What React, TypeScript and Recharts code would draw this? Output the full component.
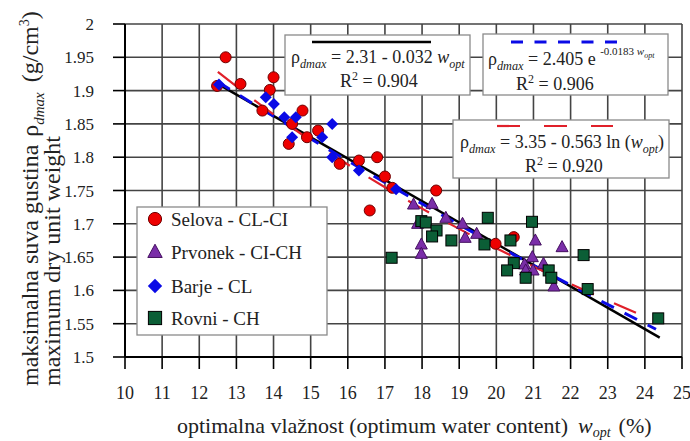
import { CartesianGrid, ComposedChart, Line, Scatter, XAxis, YAxis } from "recharts";

const xTicks = [10, 11, 12, 13, 14, 15, 16, 17, 18, 19, 20, 21, 22, 23, 24, 25];
const yTicks = [1.5, 1.55, 1.6, 1.65, 1.7, 1.75, 1.8, 1.85, 1.9, 1.95, 2];

// [w_opt, rho_dmax]
const selova = [
	[12.48, 1.907], [12.71, 1.95], [13.11, 1.91], [13.7, 1.87], [13.9, 1.901],
	[14.0, 1.92], [14.41, 1.82], [14.5, 1.85], [14.78, 1.87], [14.9, 1.83],
	[15.2, 1.84], [15.78, 1.79], [16.3, 1.795], [16.59, 1.72], [16.79, 1.8],
	[17.0, 1.771], [17.2, 1.754], [18.38, 1.75], [19.98, 1.67], [20.47, 1.68],
];
const prvonek = [
	[17.77, 1.729], [18.27, 1.73], [17.88, 1.7], [18.64, 1.709], [19.09, 1.7],
	[19.16, 1.679], [19.47, 1.685], [17.98, 1.669], [17.98, 1.655], [21.05, 1.675],
	[21.77, 1.665], [20.97, 1.65], [21.27, 1.64], [20.76, 1.639], [20.79, 1.63],
	[20.99, 1.63], [21.55, 1.606],
];
const barje = [
	[12.53, 1.909], [13.79, 1.89], [14.01, 1.88], [14.29, 1.86], [14.6, 1.86],
	[14.5, 1.83], [15.31, 1.83], [15.58, 1.85], [15.58, 1.8], [16.3, 1.78],
	[17.3, 1.752],
];
const rovni = [
	[17.18, 1.649], [17.98, 1.704], [18.1, 1.702], [18.39, 1.69], [18.27, 1.681],
	[18.79, 1.675], [19.77, 1.709], [19.68, 1.669], [20.38, 1.675], [20.96, 1.703],
	[20.47, 1.641], [20.29, 1.63], [20.79, 1.619], [21.41, 1.63], [21.48, 1.619],
	[22.35, 1.653], [22.46, 1.602], [24.36, 1.558],
];

// fitted curves as printed on the chart
const linFit = { a: 2.31, b: 0.032 };
const expFit = { a: 2.405, b: 0.0183 };
const logFit = { a: 3.35, b: 0.563 };
const linX = [12.5, 24.4];
const expX = [12.5, 14, 16, 18, 20, 22, 24.3];
const logX = [12.5, 14, 16, 18, 20, 22, 23.95];

const toPts = (arr: number[][]) => arr.map(([x, y]) => ({ x, y }));
const linData = linX.map((x) => ({ x, y: linFit.a - linFit.b * x }));
const expData = expX.map((x) => ({ x, y: expFit.a * Math.exp(-expFit.b * x) }));
const logData = logX.map((x) => ({ x, y: logFit.a - logFit.b * Math.log(x) }));

const FONT = "Liberation Serif, Times New Roman, serif";
const TXT = { fontFamily: FONT };

const RED = "#ee0000";
const PURPLE = "#7a2ea8";
const BLUE = "#0a0ae6";
const GREEN = "#0b5e36";

function Dot({ cx, cy, s = 1 }: any) {
	return <circle cx={cx} cy={cy} r={5.5 * s} fill={RED} stroke="#6e0000" strokeWidth={1} />;
}
function Tri({ cx, cy, s = 1 }: any) {
	const h = 6.5 * s;
	const w = 6 * s;
	return (
		<polygon
			points={`${cx},${cy - h} ${cx + w},${cy + h * 0.7} ${cx - w},${cy + h * 0.7}`}
			fill={PURPLE}
			stroke="#451060"
			strokeWidth={1}
		/>
	);
}
function Dia({ cx, cy, s = 1 }: any) {
	const d = 6 * s;
	return (
		<polygon
			points={`${cx},${cy - d} ${cx + d},${cy} ${cx},${cy + d} ${cx - d},${cy}`}
			fill={BLUE}
		/>
	);
}
function Sq({ cx, cy, s = 1 }: any) {
	const d = 5.5 * s;
	return <rect x={cx - d} y={cy - d} width={2 * d} height={2 * d} fill={GREEN} stroke="#000" strokeWidth={1} />;
}

const legendRows = [
	{ label: "Selova - CL-CI", Icon: Dot },
	{ label: "Prvonek - CI-CH", Icon: Tri },
	{ label: "Barje - CL", Icon: Dia },
	{ label: "Rovni - CH", Icon: Sq },
];
const legendY = [219, 252, 286, 318];

function Rho({ size }: { size: number }) {
	return (
		<>
			<tspan>ρ</tspan>
			<tspan fontSize={size * 0.68} fontStyle="italic" dy={size * 0.3}>dmax</tspan>
		</>
	);
}

function Overlay() {
	const eq = 18;
	const sub = 12;
	return (
		<svg
			width={690}
			height={441}
			style={{ position: "absolute", left: 0, top: 0, pointerEvents: "none", fontFamily: FONT }}
		>
			{/* legend */}
			<rect x={137} y={207} width={190} height={128} fill="#fff" stroke="#8a8a8a" strokeWidth={1.3} />
			{legendRows.map(({ label, Icon }, i) => (
				<g key={label}>
					<Icon cx={155} cy={legendY[i]} s={1.2} />
					<text x={171} y={legendY[i] + 7} fontSize={19} fill="#222" style={TXT}>
						{label}
					</text>
				</g>
			))}

			{/* linear */}
			<rect x={285} y={35} width={185} height={60} fill="#fff" stroke="#8a8a8a" strokeWidth={1.3} />
			<line x1={312} y1={42} x2={431} y2={42} stroke="#000" strokeWidth={2.5} />
			<text x={291} y={63} fontSize={eq} fill="#222" style={TXT}>
				<Rho size={eq} />
				<tspan dy={-eq * 0.3}> = 2.31 - 0.032 </tspan>
				<tspan fontStyle="italic">w</tspan>
				<tspan fontSize={sub} fontStyle="italic" dy={eq * 0.3}>opt</tspan>
			</text>
			<text x={340} y={87} fontSize={eq} fill="#222" style={TXT}>
				R<tspan fontSize={sub} dy={-7}>2</tspan>
				<tspan dy={7}> = 0.904</tspan>
			</text>

			{/* exponential */}
			<rect x={483} y={34} width={185} height={61} fill="#fff" stroke="#8a8a8a" strokeWidth={1.3} />
			<line x1={511} y1={42} x2={617} y2={42} stroke={BLUE} strokeWidth={3} strokeDasharray="12 11.5" />
			<text x={488} y={65} fontSize={eq} fill="#222" style={TXT}>
				<Rho size={eq} />
				<tspan dy={-eq * 0.3}> = 2.405 e </tspan>
				<tspan fontSize={11} dy={-10}>-0.0183 </tspan>
				<tspan fontSize={11} fontStyle="italic">w</tspan>
				<tspan fontSize={8} fontStyle="italic" dy={3}>opt</tspan>
			</text>
			<text x={516} y={90} fontSize={eq} fill="#222" style={TXT}>
				R<tspan fontSize={sub} dy={-7}>2</tspan>
				<tspan dy={7}> = 0.906</tspan>
			</text>

			{/* logarithmic */}
			<rect x={453} y={120} width={216} height={58} fill="#fff" stroke="#8a8a8a" strokeWidth={1.3} />
			<line x1={497} y1={126} x2={613} y2={126} stroke="#e0202a" strokeWidth={2.2} strokeDasharray="23 24" />
			<text x={460} y={148} fontSize={eq} fill="#222" style={TXT}>
				<Rho size={eq} />
				<tspan dy={-eq * 0.3}> = 3.35 - 0.563 ln (</tspan>
				<tspan fontStyle="italic">w</tspan>
				<tspan fontSize={sub} fontStyle="italic" dy={eq * 0.3}>opt</tspan>
				<tspan dy={-eq * 0.3}>)</tspan>
			</text>
			<text x={525} y={172} fontSize={eq} fill="#222" style={TXT}>
				R<tspan fontSize={sub} dy={-7}>2</tspan>
				<tspan dy={7}> = 0.920</tspan>
			</text>

			{/* axis titles */}
			<text x={177} y={433} fontSize={22} fill="#222" style={TXT}>
				optimalna vlažnost (optimum water content)
				<tspan dx={10} fontStyle="italic">w</tspan>
				<tspan fontSize={14} fontStyle="italic" dy={4}>opt</tspan>
				<tspan dx={8} dy={-4}>(%)</tspan>
			</text>
			<text transform="translate(38,386) rotate(-90)" fontSize={24} fill="#222" style={TXT}>
				maksimalna suva gustina
				<tspan dx={8}>ρ</tspan>
				<tspan fontSize={15} fontStyle="italic" dy={6}>dmax</tspan>
				<tspan dx={10} dy={-6}>(g/cm</tspan>
				<tspan fontSize={14} dy={-9}>3</tspan>
				<tspan dy={9}>)</tspan>
			</text>
			<text transform="translate(60,386) rotate(-90)" fontSize={24} fill="#222" style={TXT}>
				maximum dry unit weight
			</text>
		</svg>
	);
}

export default function App() {
	return (
		<div style={{ position: "absolute", left: 0, top: 0, width: 690, height: 441, background: "#fff", fontFamily: FONT }}>
			<ComposedChart
				width={690}
				height={441}
				margin={{ top: 24, right: 8, bottom: 0, left: 0 }}
				style={{ fontFamily: FONT }}
			>
				<CartesianGrid stroke="#444" strokeWidth={1.6} />
				<XAxis
					type="number"
					dataKey="x"
					domain={[10, 25]}
					ticks={xTicks}
					interval={0}
					height={84}
					tickSize={12}
					tickMargin={17}
					axisLine={{ stroke: "#000", strokeWidth: 2 }}
					tickLine={{ stroke: "#000", strokeWidth: 1.6 }}
					tick={{ fill: "#222", fontSize: 18, fontFamily: FONT }}
				/>
				<YAxis
					type="number"
					dataKey="y"
					domain={[1.5, 2]}
					ticks={yTicks}
					interval={0}
					width={125}
					tickSize={12}
					tickMargin={19}
					tickFormatter={(v: number) => String(Number(v.toFixed(2)))}
					axisLine={{ stroke: "#000", strokeWidth: 2 }}
					tickLine={{ stroke: "#000", strokeWidth: 1.6 }}
					tick={{ fill: "#222", fontSize: 17, fontFamily: FONT }}
				/>
				<Scatter data={toPts(selova)} shape={(p: any) => <Dot cx={p.cx} cy={p.cy} />} isAnimationActive={false} />
				<Scatter data={toPts(prvonek)} shape={(p: any) => <Tri cx={p.cx} cy={p.cy} />} isAnimationActive={false} />
				<Scatter data={toPts(barje)} shape={(p: any) => <Dia cx={p.cx} cy={p.cy} />} isAnimationActive={false} />
				<Scatter data={toPts(rovni)} shape={(p: any) => <Sq cx={p.cx} cy={p.cy} />} isAnimationActive={false} />
				<Line data={linData} dataKey="y" type="linear" stroke="#000" strokeWidth={2.5} dot={false} isAnimationActive={false} />
				<Line data={expData} dataKey="y" type="monotone" stroke={BLUE} strokeWidth={3} strokeDasharray="14 12" dot={false} isAnimationActive={false} />
				<Line data={logData} dataKey="y" type="monotone" stroke="#e0202a" strokeWidth={2.2} strokeDasharray="24 22" dot={false} isAnimationActive={false} />
			</ComposedChart>
			<Overlay />
		</div>
	);
}
